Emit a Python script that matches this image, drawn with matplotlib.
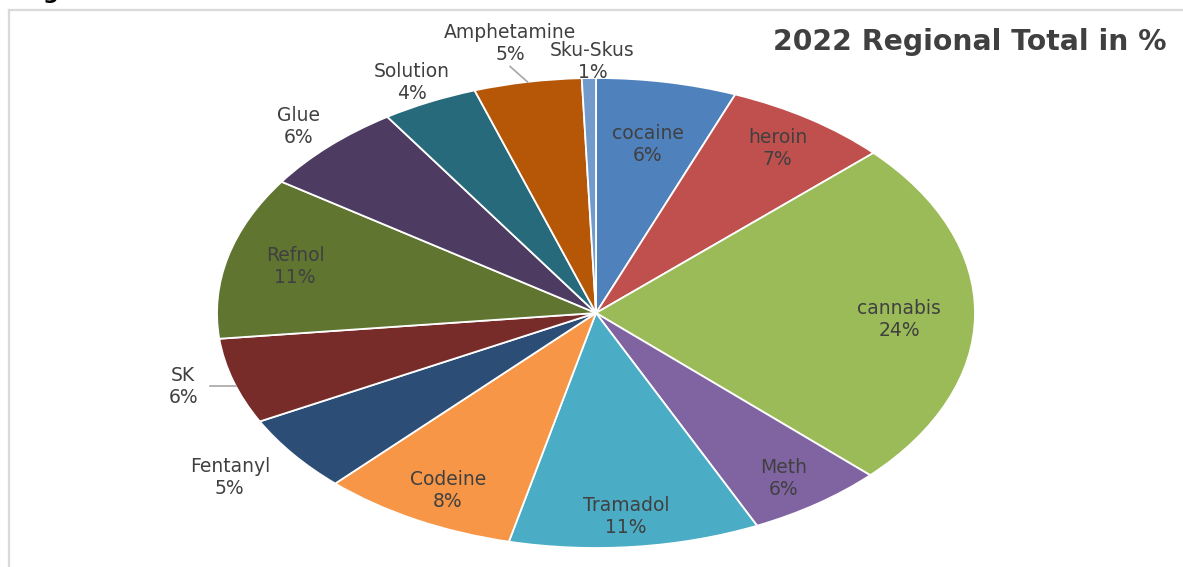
import numpy as np
import matplotlib
matplotlib.use('Agg')
import matplotlib.pyplot as plt
from matplotlib.lines import Line2D

# regional share of each substance, clockwise from 12 o'clock
drugs = ['cocaine', 'heroin', 'cannabis', 'Meth', 'Tramadol', 'Codeine',
         'Fentanyl', 'SK', 'Refnol', 'Glue', 'Solution', 'Amphetamine', 'Sku-Skus']
shares = [6.0, 7.1, 24.1, 5.9, 10.7, 8.4, 5.3, 5.9, 11.2, 6.3, 4.1, 4.6, 0.6]

colors = ['#4F81BD', '#C0504D', '#9BBB59', '#8064A2', '#4BACC6', '#F79646',
          '#2C4D75', '#772C2A', '#5F7530', '#4D3B62', '#276A7C', '#B65708', '#729ACA']

# how far out each label sits (1.0 = pie edge), plus a small pixel nudge
label_dist = [0.73, 0.85, 0.80, 0.87, 0.87, 0.86, 1.19, 1.13, 0.82, 1.115, 1.09, 1.165, 1.07]
label_nudge = [(0, 0), (0, 0), (0, -5), (-5, 0), (-4, 0), (7, 0),
               (-6, 4), (-3, 4), (1, 0), (0, 0), (-3, 0), (-6, 0), (4, 0)]

W, H = 1183, 567
cx, cy = 596, 313      # pie centre in pixels (from top-left)
rx, ry = 379, 235      # the pie is drawn stretched sideways
line_gap = 11 / ry     # half the distance between name and percent lines

fig = plt.figure(figsize=(W / 100, H / 100), dpi=100)
ax = fig.add_axes([0, 0, 1, 1])

wedges, _ = ax.pie(shares, colors=colors, startangle=90, counterclock=False,
                   wedgeprops=dict(edgecolor='white', linewidth=1.3))
ax.set_aspect('auto')
ax.set_xlim(-cx / rx, (W - cx) / rx)
ax.set_ylim(-(H - cy) / ry, cy / ry)
ax.axis('off')

total = sum(shares)
for w, name, val, r, (nx, ny) in zip(wedges, drugs, shares, label_dist, label_nudge):
    ang = np.deg2rad((w.theta1 + w.theta2) / 2)
    lx = r * np.cos(ang) + nx / rx
    ly = r * np.sin(ang) + ny / ry
    ax.text(lx, ly + line_gap, name, ha='center', va='center',
            fontsize=13.5, color='#404040')
    ax.text(lx, ly - line_gap, '%d%%' % round(val / total * 100), ha='center', va='center',
            fontsize=13.5, color='#404040')

    # leader lines for the two labels that sit away from their slice
    if name == 'SK':
        xe = -np.sqrt(1 - ly ** 2)
        ax.plot([lx + 0.07, xe], [ly, ly], color='#a6a6a6', lw=1.2)
    elif name == 'Amphetamine':
        ax.plot([np.cos(ang), lx], [np.sin(ang), ly - 0.097], color='#a6a6a6', lw=1.2)

# chart border (left and top only show)
fig.add_artist(Line2D([9 / W, 9 / W], [0, 1 - 10 / H], transform=fig.transFigure,
                      color='#d9d9d9', lw=1.6))
fig.add_artist(Line2D([9 / W, 1], [1 - 10 / H, 1 - 10 / H], transform=fig.transFigure,
                      color='#d9d9d9', lw=1.6))

# tail of the heading above the chart
fig.text(43 / W, 1 + 1 / H, 'g', fontsize=16, fontweight='bold', color='black',
         ha='left', va='baseline')

fig.text(970 / W, 1 - 42 / H, '2022 Regional Total in %', ha='center', va='center',
         fontsize=20.3, fontweight='bold', color='#404040')

fig.savefig('out.png', dpi=100)
